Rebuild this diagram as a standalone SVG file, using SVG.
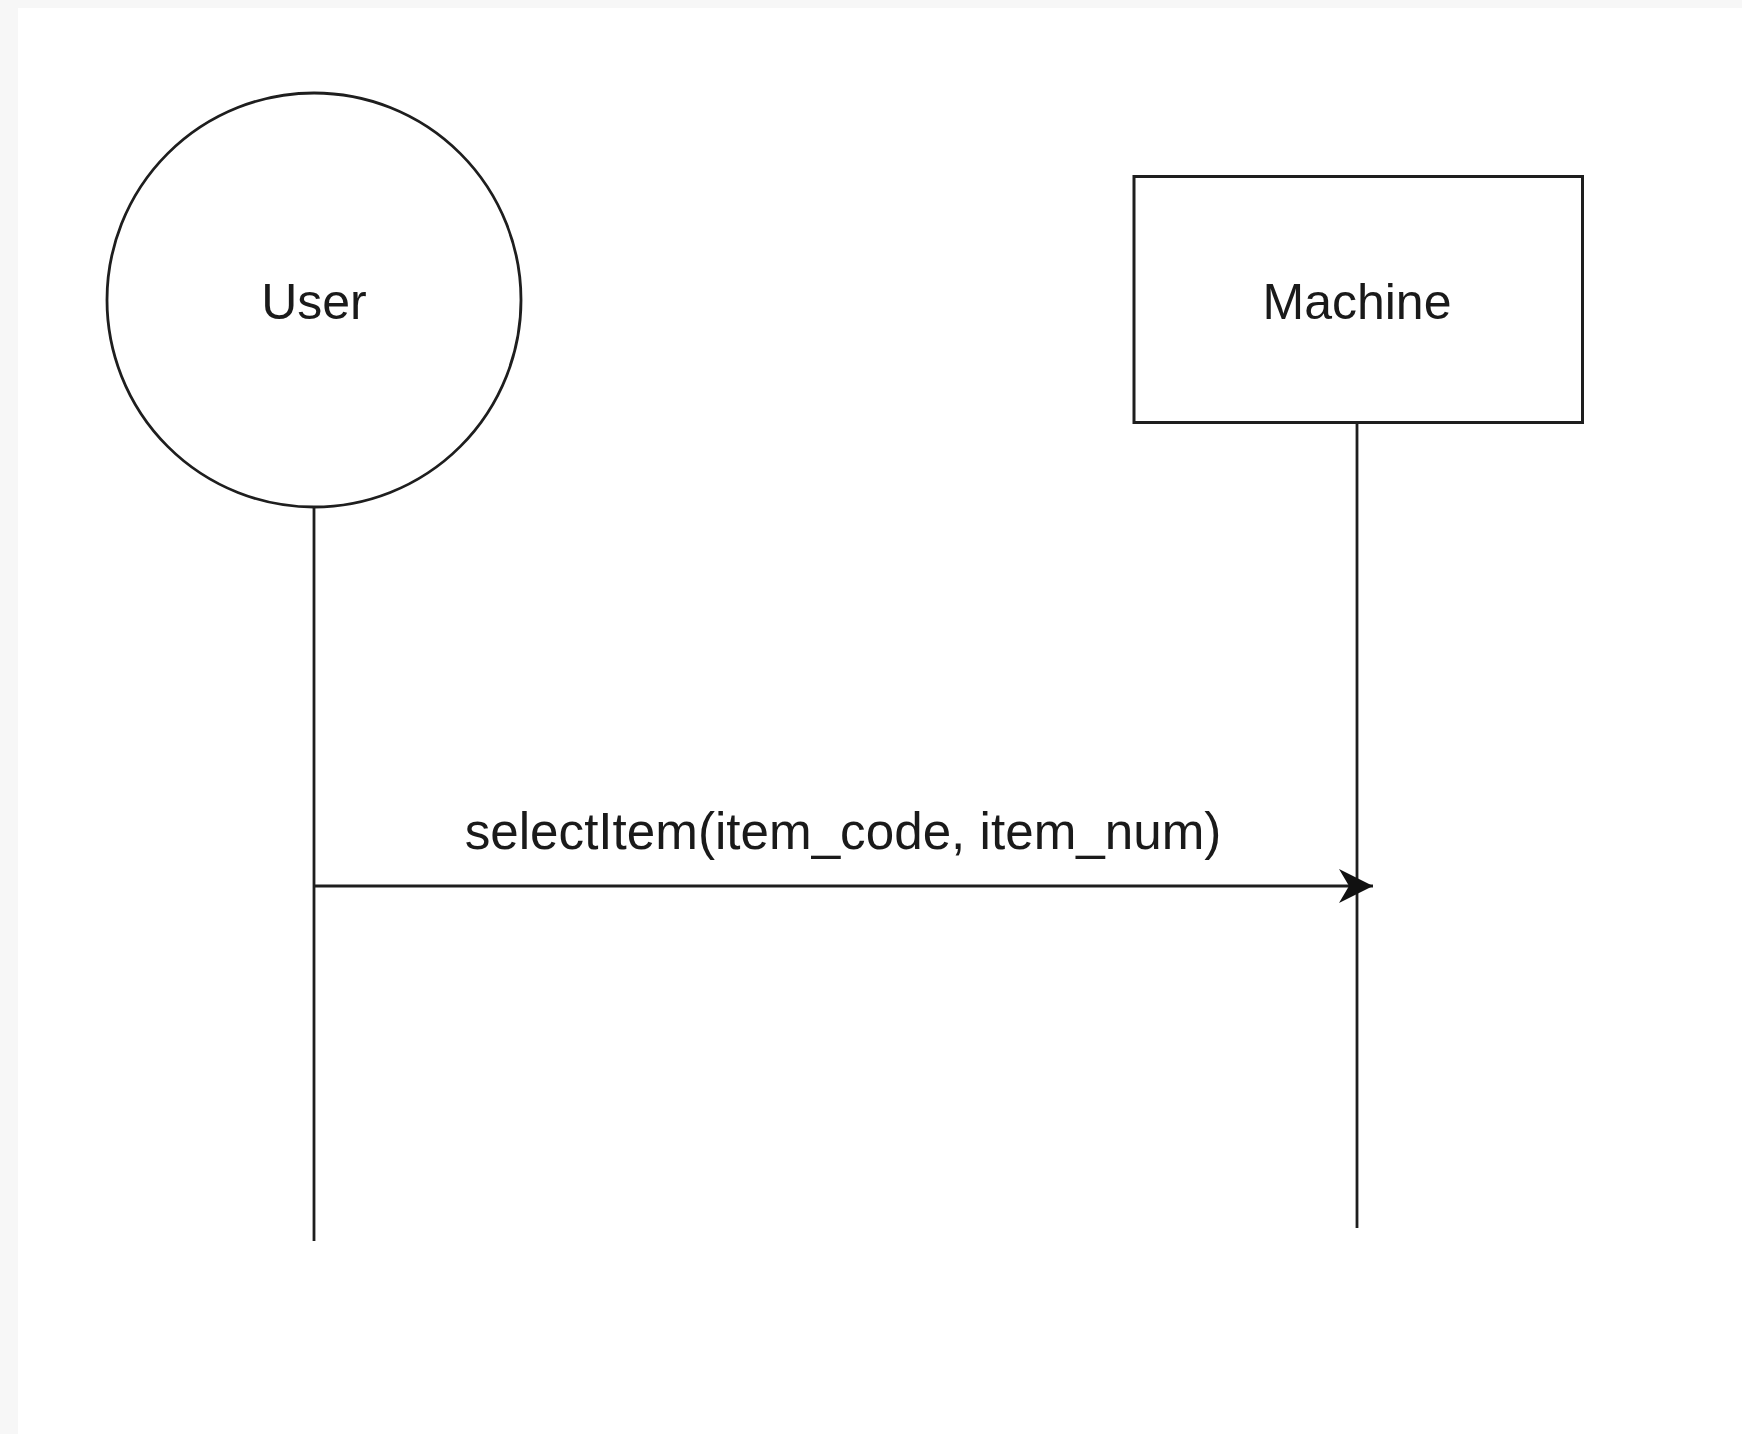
<svg xmlns="http://www.w3.org/2000/svg" width="1742" height="1434" viewBox="0 0 1742 1434">
<style>
.shape{fill:#ffffff;stroke:#1e1e1e;stroke-width:2.8}
.life{stroke:#1e1e1e;stroke-width:2.8;fill:none}
.lbl{font-family:"Liberation Sans",Arial,sans-serif;font-size:50px;fill:#1a1a1a;text-anchor:middle}
</style>
<defs>
<marker id="arr" markerUnits="userSpaceOnUse" markerWidth="40" markerHeight="40" viewBox="0 0 40 40" refX="36" refY="20" orient="auto">
<path d="M2,3 L36,20 L2,37 L12,20 Z" fill="#111111"/>
</marker>
</defs>
<rect x="0" y="0" width="1742" height="1434" fill="#f7f7f7"/>
<rect x="18" y="8" width="1724" height="1426" fill="#ffffff"/>
<g id="connectors">
<line class="life" x1="314" y1="507" x2="314" y2="1241"/>
<line class="life" x1="1357" y1="422" x2="1357" y2="1228"/>
<line class="life" x1="314" y1="886" x2="1373" y2="886" marker-end="url(#arr)"/>
<text class="lbl" x="843" y="849" style="font-size:51.2px">selectItem(item_code, item_num)</text>
</g>
<g id="user">
<circle class="shape" cx="314" cy="300" r="207"/>
<text class="lbl" x="314" y="319">User</text>
</g>
<g id="machine">
<rect class="shape" x="1134" y="176.5" width="448.5" height="246" style="stroke-width:3"/>
<text class="lbl" x="1357" y="319">Machine</text>
</g>
</svg>
